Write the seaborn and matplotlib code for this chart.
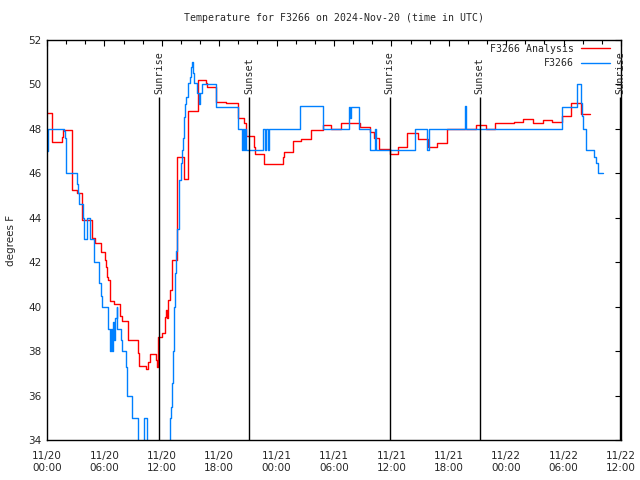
import numpy as np
import pandas as pd
import matplotlib
matplotlib.use("Agg")
import matplotlib.pyplot as plt
import matplotlib.dates as mdates
from matplotlib.lines import Line2D
import seaborn as sns

# ---- data: hours since 2024-11-20 00:00 UTC, temperature in F ----
analysis_hours = [0.0, 0.55, 1.53, 1.64, 2.58, 3.1, 3.63, 4.68, 5.03, 5.62, 6.07, 6.18,
                  6.28, 6.4, 6.6, 7.0, 7.64, 7.82, 8.51, 9.56, 9.66, 10.37, 10.6, 10.79,
                  11.41, 11.55, 11.65, 12.01, 12.36, 12.46, 12.57, 12.7, 12.88, 13.06,
                  13.58, 14.35, 14.69, 15.74, 16.65, 16.72, 17.62, 18.74, 19.93, 20.6,
                  20.84, 21.6, 21.78, 22.65, 24.68, 24.74, 25.73, 26.6, 27.61, 28.8,
                  29.7, 30.68, 32.7, 33.75, 34.17, 34.69, 35.81, 36.68, 37.67, 38.77,
                  39.82, 40.73, 41.78, 43.77, 44.82, 45.86, 46.84, 48.83, 49.77, 50.75,
                  51.8, 52.74, 53.79, 54.76, 55.81, 56.79]
analysis_temp = [48.7, 47.4, 47.65, 47.95, 45.25, 45.1, 43.9, 43.1, 42.85, 42.47, 42.1, 41.8,
                 41.35, 41.2, 40.25, 40.1, 39.6, 39.35, 38.5, 37.9, 37.35, 37.2, 37.5, 37.85,
                 37.6, 37.3, 38.65, 38.8, 39.55, 39.85, 39.5, 40.3, 40.75, 42.1,
                 46.75, 45.75, 48.8, 50.2, 50.05, 49.9, 49.2, 49.15, 48.5, 48.25,
                 47.7, 47.2, 46.85, 46.4, 46.75, 46.97, 47.47, 47.55, 47.95, 48.18,
                 48.0, 48.25, 48.1, 47.87, 47.6, 47.1, 46.87, 47.17, 47.83, 47.53,
                 47.17, 47.38, 47.98, 48.0, 48.18, 48.0, 48.28, 48.3, 48.43, 48.28,
                 48.4, 48.3, 48.58, 49.15, 48.66, 48.66]

obs_hours = [0.0, 0.07, 1.78, 1.85, 1.99, 3.11, 3.21, 3.38, 3.8, 3.9, 4.15, 4.5, 4.95,
             5.48, 5.65, 5.73, 6.36, 6.6, 6.7, 6.81, 6.91, 7.02, 7.12, 7.3, 7.36, 7.72,
             7.82, 8.24, 8.35, 8.41, 8.87, 9.46, 10.09, 10.44, 12.81, 12.95, 13.06, 13.16,
             13.3, 13.4, 13.51, 13.64, 13.75, 13.85, 14.0, 14.1, 14.17, 14.27, 14.38,
             14.55, 14.69, 14.9, 15.05, 15.15, 15.26, 15.39, 15.68, 15.84, 16.02, 16.2,
             17.7, 19.93, 20.39, 20.47, 20.57, 20.68, 20.78, 22.62, 22.77, 22.93, 23.09,
             23.25, 26.42, 28.9, 31.55, 31.7, 31.8, 32.6, 33.75, 34.27, 34.35, 38.43,
             39.76, 39.93, 43.66, 43.77, 53.79, 55.36, 55.81, 55.9, 56.0, 56.3, 57.2,
             57.4, 57.6, 58.1]
obs_temp = [47.0, 48.0, 47.9, 47.6, 46.0, 45.5, 45.1, 44.6, 44.0, 43.03, 44.0, 43.03, 42.0,
            41.05, 40.5, 40.0, 38.98, 38.0, 39.0, 38.0, 39.3, 38.5, 39.5, 40.0, 39.0, 38.5,
            38.0, 37.3, 37.0, 36.0, 35.0, 33.5, 35.0, 33.5, 35.0, 35.5, 36.55, 38.0,
            40.0, 41.5, 42.5, 43.5, 44.7, 45.7, 46.45, 47.05, 47.6, 48.55, 49.1,
            49.45, 50.05, 50.35, 50.8, 51.0, 50.5, 50.05, 49.6, 49.1, 49.6, 50.0,
            49.0, 48.0, 47.05, 48.0, 47.05, 48.0, 47.05, 48.0, 47.05, 48.0, 47.05,
            48.0, 49.03, 48.0, 49.0, 48.5, 49.0, 48.0, 47.05, 48.0, 47.05, 48.0,
            47.05, 48.0, 49.03, 48.0, 49.0, 50.0, 49.15, 48.6, 48.0, 47.05, 46.75,
            46.45, 46.0, 46.0]

sun_hours = [11.73, 21.15, 35.81, 45.24, 59.92]
sun_labels = ["Sunrise", "Sunset", "Sunrise", "Sunset", "Sunrise"]

series_names = ["F3266 Analysis", "F3266"]
series_colors = ["#ff0000", "#0080ff"]
title = "Temperature for F3266 on 2024-Nov-20 (time in UTC)"

# ---- build frame ----
t0 = pd.Timestamp("2024-11-20 00:00")
df = pd.concat([
    pd.DataFrame({"time": t0 + pd.to_timedelta(analysis_hours, unit="h"),
                  "temp": analysis_temp, "series": series_names[0]}),
    pd.DataFrame({"time": t0 + pd.to_timedelta(obs_hours, unit="h"),
                  "temp": obs_temp, "series": series_names[1]}),
], ignore_index=True)

sns.set_style("white")
mono = "DejaVu Sans Mono"
plt.rcParams["font.family"] = ["DejaVu Sans"]

fig = plt.figure(figsize=(6.4, 4.8), dpi=100)
ax = fig.add_axes([47/640, 40/480, (621-47)/640, 400/480])

for name, col in zip(series_names, series_colors):
    sub = df[df["series"] == name]
    sns.lineplot(data=sub, x="time", y="temp", ax=ax, color=col, lw=1.0,
                 drawstyle="steps-post", estimator=None, sort=False, legend=False)

# sunrise / sunset markers
sun_times = t0 + pd.to_timedelta(sun_hours, unit="h")
ax.vlines(sun_times, 34, 49.42, color="black", lw=1.0)
for st, lab in zip(sun_times, sun_labels):
    ax.text(st, 49.55, lab, rotation=90, ha="center", va="bottom",
            family=mono, fontsize=7.3, clip_on=False)

ax.set_xlim(t0, t0 + pd.Timedelta(hours=60))
ax.set_ylim(34, 52)
ax.set_yticks(np.arange(34, 53, 2))
ax.xaxis.set_major_locator(mdates.HourLocator(byhour=[0, 6, 12, 18]))
ax.xaxis.set_minor_locator(mdates.HourLocator(byhour=range(0, 24, 2)))
ax.xaxis.set_major_formatter(mdates.DateFormatter("%m/%d\n%H:%M"))

ax.tick_params(axis="both", which="both", direction="in", top=True, right=True,
               labelsize=7.5, color="black", width=0.8)
ax.tick_params(axis="both", which="major", length=4, pad=4)
ax.tick_params(axis="x", which="minor", length=3)
ax.tick_params(axis="x", which="major", pad=8)
for sp in ax.spines.values():
    sp.set_color("black")
    sp.set_linewidth(1.0)

ax.set_xlabel("")
ax.set_ylabel("degrees F", fontsize=7.5, labelpad=9)
ax.set_title(title, family=mono, fontsize=7.1, pad=14)

handles = [Line2D([], [], color=c, lw=1.0) for c in series_colors]
ax.legend(handles, series_names, loc="upper right", bbox_to_anchor=(0.989, 1.003),
          frameon=False, markerfirst=False, prop={"family": mono, "size": 7.1},
          handlelength=2.9, handletextpad=0.7, labelspacing=0.45, borderpad=0.0)

fig.savefig("out.png", dpi=100, facecolor="white")
